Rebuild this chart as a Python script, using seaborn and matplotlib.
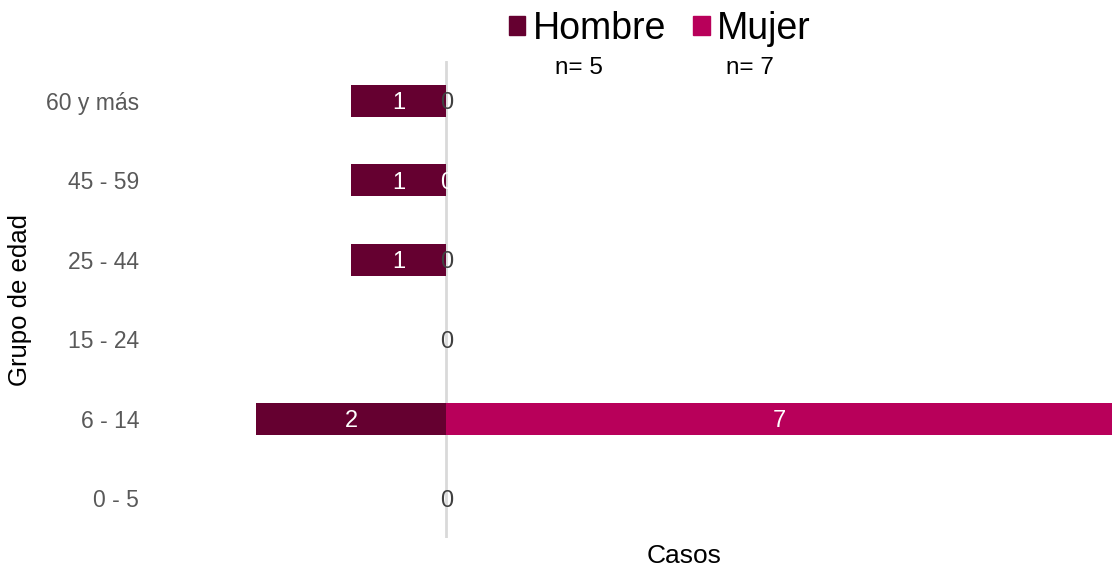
import matplotlib
matplotlib.use("Agg")
import matplotlib.pyplot as plt
import seaborn as sns
import pandas as pd
from matplotlib.patches import Patch

# Data
grupos = ["60 y más", "45 - 59", "25 - 44", "15 - 24", "6 - 14", "0 - 5"]
hombre = [1, 1, 1, 0, 2, 0]
mujer = [0, 0, 0, 0, 7, 0]
n_hombre = 5
n_mujer = 7

sns.set_theme(style="white")
plt.rcParams["font.family"] = ["Liberation Sans", "DejaVu Sans"]

c_h = "#650030"
c_m = "#B8005A"

df = pd.DataFrame({
    "grupo": grupos * 2,
    "sexo": ["Hombre"] * len(grupos) + ["Mujer"] * len(grupos),
    "casos": [-v for v in hombre] + mujer,
})

fig = plt.figure(figsize=(11.12, 5.69), dpi=100)
ax = fig.add_axes([256 / 1112, 1 - 538 / 569, 856 / 1112, 477 / 569])

sns.barplot(data=df, y="grupo", x="casos", hue="sexo", order=grupos,
            hue_order=["Hombre", "Mujer"], palette=[c_h, c_m], dodge=False,
            width=0.4, orient="h", ax=ax, legend=False, edgecolor="none",
            saturation=1)

ax.set_xlim(-2, 7)
ax.set_ylim(len(grupos) - 0.5, -0.5)
ax.axvline(0, color="#d9d9d9", lw=2, zorder=0.5)
ax.set_xticks([])
for s in ax.spines.values():
    s.set_visible(False)

ax.tick_params(axis="y", length=0, pad=84, labelsize=16.5, labelcolor="#595959")
ax.set_xlabel("Casos", fontsize=19, color="black")
ax.xaxis.set_label_coords(0.5, -0.012)
ax.set_ylabel("Grupo de edad", fontsize=18.5, color="black")
ax.yaxis.set_label_coords(-0.262, 0.5)

# value labels
zero_cols = ["#404040", "white", "#404040", "#404040", "#404040", "#404040"]
lab_fs = 17
for i, (h, m) in enumerate(zip(hombre, mujer)):
    if h > 0:
        ax.text(-h / 2, i, str(h), color="white", ha="center", va="center_baseline", fontsize=lab_fs)
    if m > 0:
        ax.text(m / 2, i, str(m), color="white", ha="center", va="center_baseline", fontsize=lab_fs)
    if h == 0 or m == 0:
        ax.text(0.01, i, "0", color=zero_cols[i], ha="center", va="center_baseline", fontsize=lab_fs)

handles = [Patch(color=c_h, label="Hombre"), Patch(color=c_m, label="Mujer")]
leg = fig.legend(handles=handles, loc="center", bbox_to_anchor=(660 / 1112, 1 - 29 / 569),
                 ncol=2, frameon=False, fontsize=27, handlelength=0.43, handleheight=0.43,
                 handletextpad=0.21, columnspacing=0.72, borderaxespad=0, borderpad=0)
for t in leg.get_texts():
    t.set_color("black")
fig.text(579 / 1112, 1 - 68 / 569, f"n= {n_hombre}", ha="center", va="center", fontsize=17.5, color="black")
fig.text(750 / 1112, 1 - 68 / 569, f"n= {n_mujer}", ha="center", va="center", fontsize=17.5, color="black")

fig.savefig("out.png", dpi=100)
